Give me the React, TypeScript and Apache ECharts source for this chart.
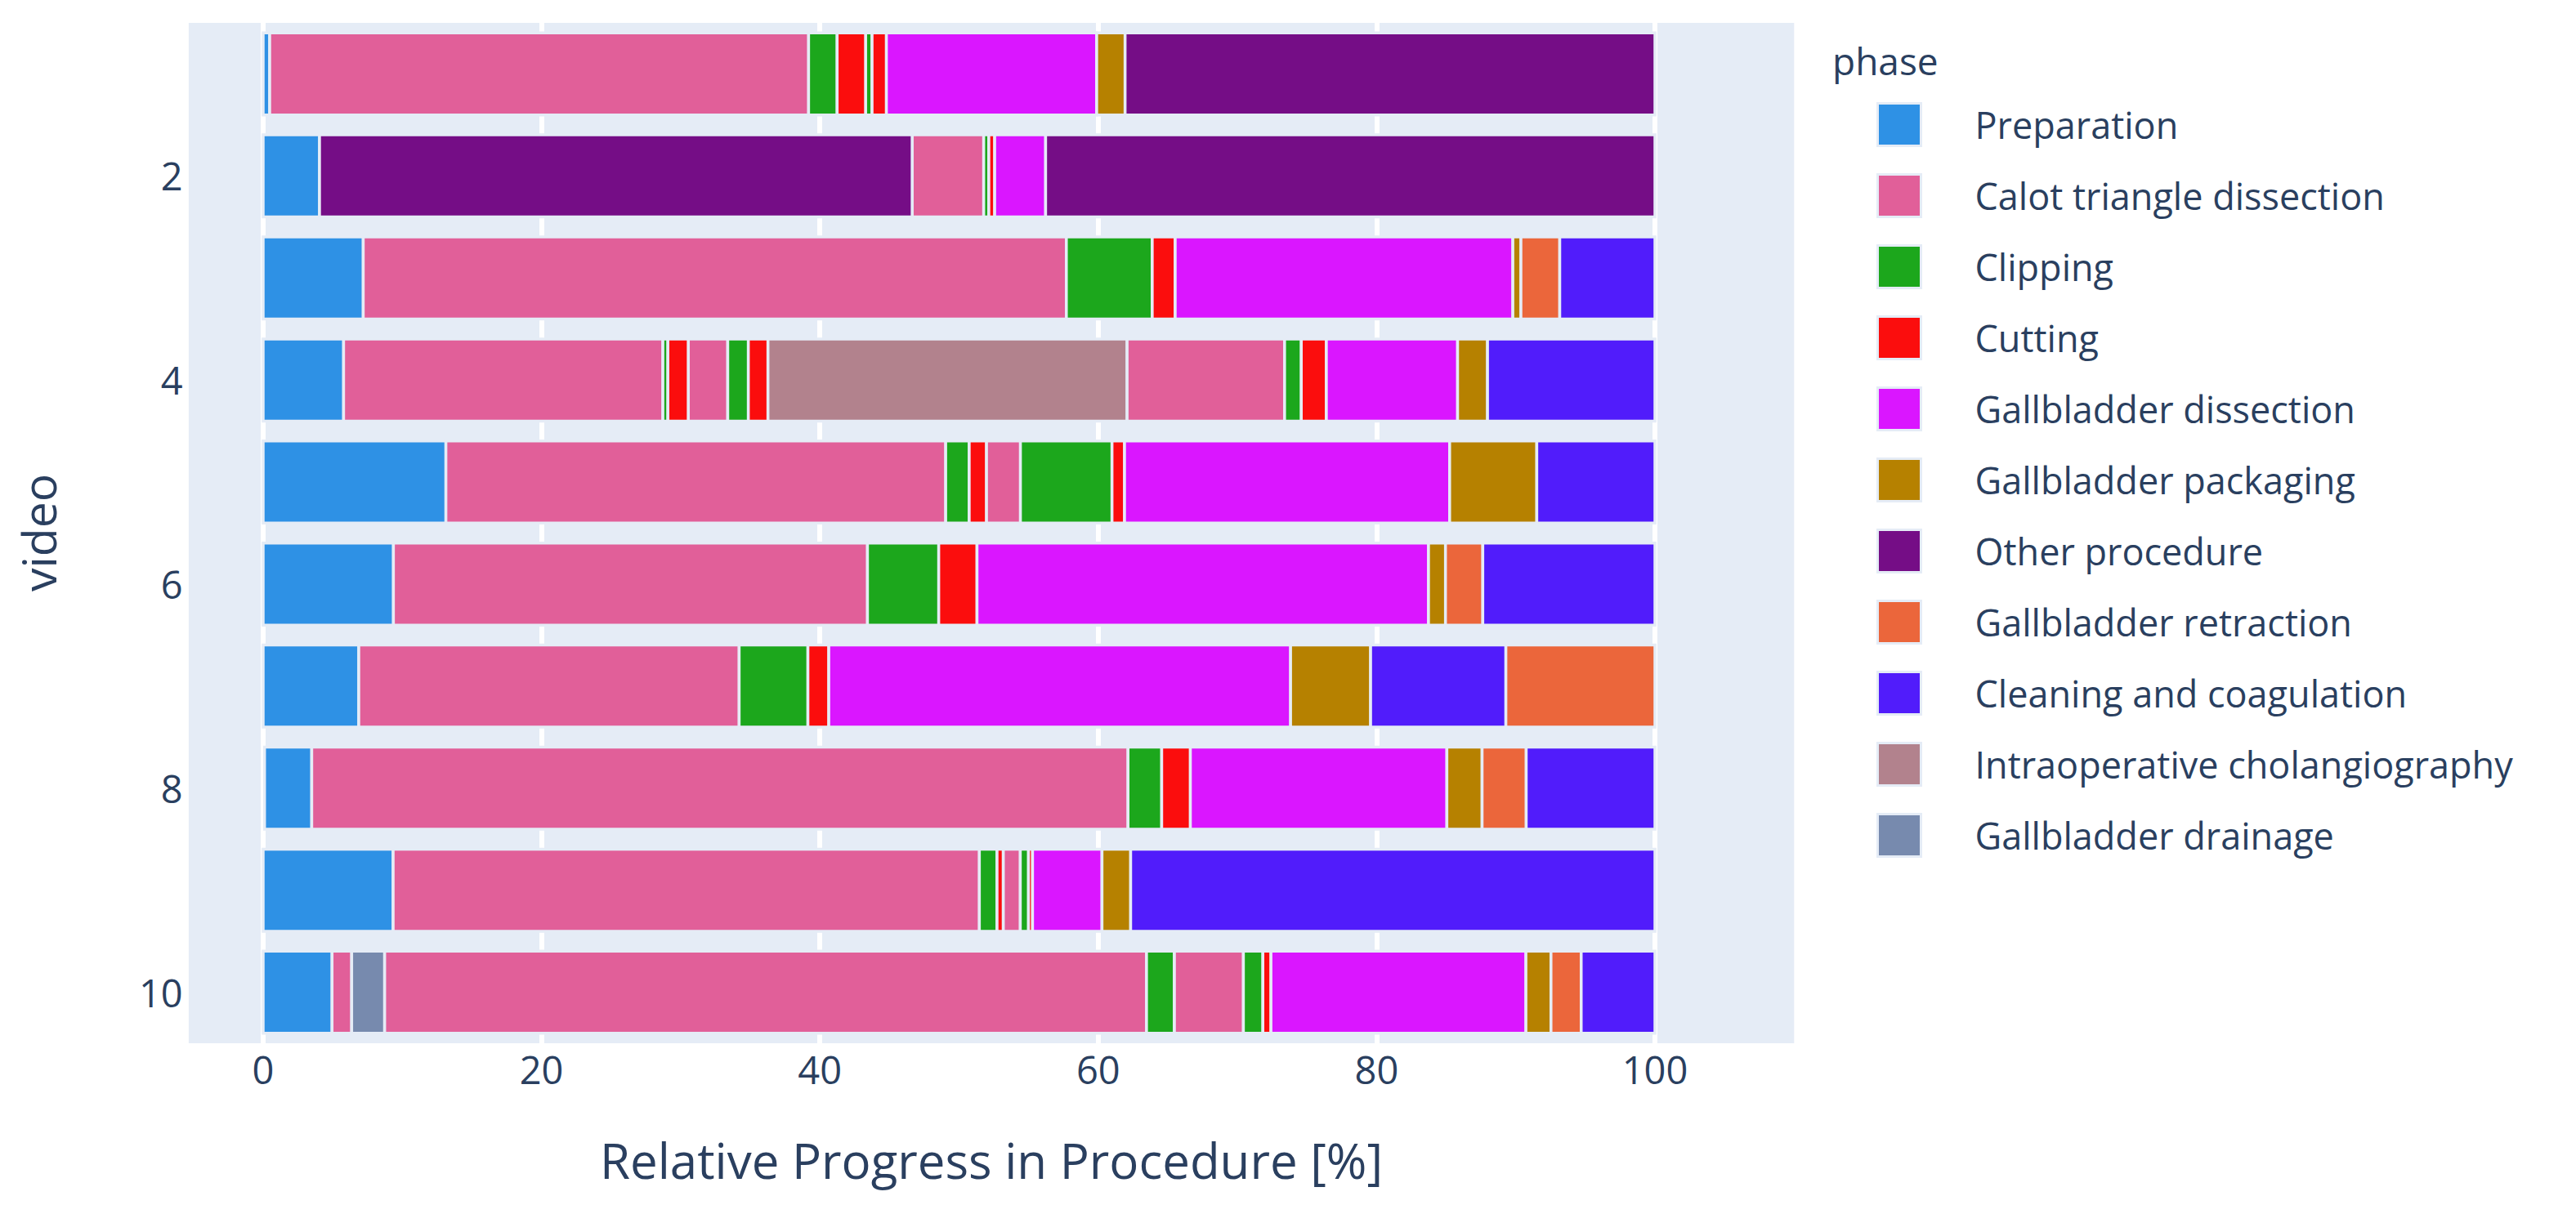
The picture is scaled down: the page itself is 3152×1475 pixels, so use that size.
import React, { useEffect, useRef } from "react";
import * as echarts from "echarts";

const phases = [
  "Preparation",
  "Calot triangle dissection",
  "Clipping",
  "Cutting",
  "Gallbladder dissection",
  "Gallbladder packaging",
  "Other procedure",
  "Gallbladder retraction",
  "Cleaning and coagulation",
  "Intraoperative cholangiography",
  "Gallbladder drainage",
];
const phaseColors = [
  "#2E91E5",
  "#E15F99",
  "#1CA71C",
  "#FB0D0D",
  "#DA16FF",
  "#B68100",
  "#750D86",
  "#EB663B",
  "#511CFB",
  "#B2828D",
  "#778AAE",
];
const videos = ["1", "2", "3", "4", "5", "6", "7", "8", "9", "10"];
const xTickValues = [0, 20, 40, 60, 80, 100];

const PREP = "Preparation";
const CALOT = "Calot triangle dissection";
const CLIP = "Clipping";
const CUT = "Cutting";
const GBD = "Gallbladder dissection";
const PACK = "Gallbladder packaging";
const OTHER = "Other procedure";
const RETR = "Gallbladder retraction";
const CLEAN = "Cleaning and coagulation";
const CHOL = "Intraoperative cholangiography";
const DRAIN = "Gallbladder drainage";

const video1Phases = [PREP, CALOT, CLIP, CUT, CLIP, CUT, GBD, PACK, OTHER];
const video1Bounds = [0, 0.47, 39.19, 41.24, 43.28, 43.75, 44.78, 59.89, 61.93, 100];
const video2Phases = [PREP, OTHER, CALOT, CLIP, CUT, GBD, OTHER];
const video2Bounds = [0, 4.05, 46.63, 51.77, 52.14, 52.56, 56.22, 100];
const video3Phases = [PREP, CALOT, CLIP, CUT, GBD, PACK, RETR, CLEAN];
const video3Bounds = [0, 7.19, 57.71, 63.88, 65.53, 89.79, 90.37, 93.16, 100];
const video4Phases = [PREP, CALOT, CLIP, CUT, CALOT, CLIP, CUT, CHOL, CALOT, CLIP, CUT, GBD, PACK, CLEAN];
const video4Bounds = [0, 5.78, 28.72, 29.08, 30.54, 33.38, 34.86, 36.27, 62.06, 73.39, 74.59, 76.39, 85.82, 87.97, 100];
const video5Phases = [PREP, CALOT, CLIP, CUT, CALOT, CLIP, CUT, GBD, PACK, CLEAN];
const video5Bounds = [0, 13.13, 49.04, 50.73, 51.96, 54.41, 60.99, 61.89, 85.25, 91.51, 100];
const video6Phases = [PREP, CALOT, CLIP, CUT, GBD, PACK, RETR, CLEAN];
const video6Bounds = [0, 9.36, 43.42, 48.54, 51.29, 83.73, 84.95, 87.63, 100];
const video7Phases = [PREP, CALOT, CLIP, CUT, GBD, PACK, CLEAN, RETR];
const video7Bounds = [0, 6.87, 34.2, 39.14, 40.64, 73.82, 79.57, 89.28, 100];
const video8Phases = [PREP, CALOT, CLIP, CUT, GBD, PACK, RETR, CLEAN];
const video8Bounds = [0.1, 3.49, 62.14, 64.56, 66.62, 85.05, 87.58, 90.75, 100];
const video9Phases = [PREP, CALOT, CLIP, CUT, CALOT, CLIP, CUT, GBD, PACK, CLEAN];
const video9Bounds = [0, 9.34, 51.46, 52.73, 53.17, 54.4, 54.99, 55.28, 60.27, 62.33, 100];
const video10Phases = [PREP, CALOT, DRAIN, CALOT, CLIP, CALOT, CLIP, CUT, GBD, PACK, RETR, CLEAN];
const video10Bounds = [0, 4.95, 6.36, 8.72, 63.47, 65.46, 70.43, 71.83, 72.41, 90.73, 92.53, 94.7, 100];

const videoPhases = [
  video1Phases, video2Phases, video3Phases, video4Phases, video5Phases,
  video6Phases, video7Phases, video8Phases, video9Phases, video10Phases,
];
const videoBounds = [
  video1Bounds, video2Bounds, video3Bounds, video4Bounds, video5Bounds,
  video6Bounds, video7Bounds, video8Bounds, video9Bounds, video10Bounds,
];

const TEXT = "#2a3f5f";
const BG = "#E5ECF6";
const FONT = "Open Sans";

export default function App() {
  const ref = useRef<HTMLDivElement>(null);

  useEffect(() => {
    if (!ref.current) return;
    const chart = echarts.init(ref.current, undefined, { renderer: "svg" });

    const phaseSeries = phases.map((phase, pi) => {
      const data: number[][] = [];
      videoPhases.forEach((seq, vi) => {
        seq.forEach((ph, si) => {
          if (ph === phase) data.push([vi, videoBounds[vi][si], videoBounds[vi][si + 1]]);
        });
      });
      const color = phaseColors[pi];
      return {
        name: phase,
        type: "custom",
        z: 5,
        itemStyle: { color, borderColor: BG, borderWidth: 3 },
        encode: { x: [1, 2], y: 0 },
        renderItem: (params: any, api: any) => {
          const vi = api.value(0);
          const p0 = api.coord([api.value(1), vi]);
          const p1 = api.coord([api.value(2), vi]);
          const band = api.size([0, 1])[1];
          const h = band * 0.805;
          return {
            type: "rect",
            shape: { x: p0[0], y: p0[1] - h / 2, width: p1[0] - p0[0], height: h },
            style: { fill: color, stroke: BG, lineWidth: 3.5 },
          };
        },
        data,
      };
    });

    const option: any = {
      animation: false,
      backgroundColor: "#ffffff",
      textStyle: { fontFamily: FONT, color: TEXT },
      grid: { left: 151.7, width: 2043.6, top: 28, height: 1249, containLabel: false },
      xAxis: {
        type: "value",
        min: -10,
        max: 110,
        interval: 10,
        axisLine: { show: false },
        axisTick: { show: false },
        splitLine: { show: false },
        axisLabel: {
          fontSize: 47,
          color: TEXT,
          fontFamily: FONT,
          margin: 8,
          formatter: (v: number) => (xTickValues.indexOf(Math.round(v)) >= 0 ? String(Math.round(v)) : ""),
        },
      },
      yAxis: {
        type: "category",
        data: videos,
        inverse: true,
        axisLine: { show: false },
        axisTick: { show: false },
        splitLine: { show: false },
        axisLabel: {
          fontSize: 47,
          color: TEXT,
          fontFamily: FONT,
          margin: -72,
          interval: (index: number) => index % 2 === 1,
        },
      },
      legend: {
        data: phases,
        orient: "vertical",
        left: 2291,
        top: 120,
        itemWidth: 53,
        itemHeight: 52,
        itemGap: 32,
        icon: "rect",
        selectedMode: false,
        itemStyle: { borderColor: BG, borderWidth: 3 },
        textStyle: {
          fontSize: 45,
          color: TEXT,
          fontFamily: FONT,
          lineHeight: 48,
          padding: [0, 0, 0, 61],
        },
      },
      graphic: [
        {
          type: "text",
          x: 2242,
          y: 74,
          style: {
            text: "phase",
            fontSize: 46,
            fill: TEXT,
            fontFamily: FONT,
            align: "left",
            verticalAlign: "middle",
          },
        },
        {
          type: "text",
          x: 47,
          y: 652,
          rotation: Math.PI / 2,
          style: {
            text: "video",
            fontSize: 57,
            fill: TEXT,
            fontFamily: FONT,
            align: "center",
            verticalAlign: "middle",
          },
        },
        {
          type: "text",
          x: 1213,
          y: 1420,
          style: {
            text: "Relative Progress in Procedure [%]",
            fontSize: 60,
            fill: TEXT,
            fontFamily: FONT,
            align: "center",
            verticalAlign: "middle",
          },
        },
      ],
      series: [
        {
          name: "__grid",
          type: "line",
          data: [],
          z: 1,
          silent: true,
          markArea: {
            silent: true,
            z: 1,
            itemStyle: { color: BG },
            data: [[{ xAxis: -5.35 }, { xAxis: 110 }]],
          },
          markLine: {
            silent: true,
            z: 2,
            symbol: "none",
            label: { show: false },
            lineStyle: { color: "#ffffff", width: 6, type: "solid" },
            data: xTickValues.map((v) => ({ xAxis: v })),
          },
        },
        ...phaseSeries,
      ],
    };

    chart.setOption(option);
    return () => chart.dispose();
  }, []);

  return (
    <div
      ref={ref}
      style={{ position: "fixed", left: 0, top: 0, width: 3152, height: 1475 }}
    />
  );
}
